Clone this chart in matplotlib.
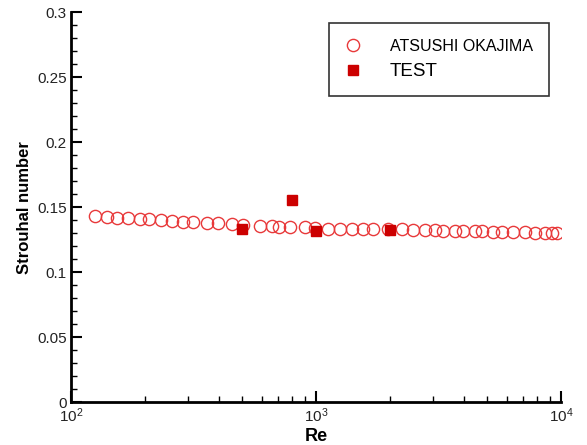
import matplotlib
matplotlib.use("Agg")
import matplotlib.pyplot as plt
from matplotlib.ticker import FixedLocator, NullFormatter

plt.rcParams['font.family'] = ['Liberation Sans', 'DejaVu Sans']
plt.rcParams['mathtext.fontset'] = 'custom'
plt.rcParams['mathtext.rm'] = 'Liberation Sans'

okajima_re = [125, 140, 154, 171, 191, 208, 233, 258, 287, 315, 359, 398, 454, 504,
              591, 661, 706, 783, 902, 991, 1119, 1253, 1403, 1556, 1709, 1968, 2244,
              2489, 2786, 3062, 3298, 3690, 3981, 4456, 4761, 5277, 5745, 6368, 7129,
              7834, 8610, 9186, 9638]
okajima_st = [0.143, 0.1425, 0.142, 0.1415, 0.141, 0.141, 0.140, 0.1395, 0.139, 0.139,
              0.138, 0.138, 0.137, 0.1365, 0.1355, 0.1355, 0.135, 0.135, 0.1345, 0.134,
              0.1335, 0.1335, 0.1335, 0.1335, 0.133, 0.133, 0.133, 0.1325, 0.1325, 0.1325,
              0.132, 0.1315, 0.1315, 0.1315, 0.1315, 0.131, 0.131, 0.131, 0.131, 0.1305,
              0.1305, 0.130, 0.130]
test_re = [500, 800, 1000, 2000]
test_st = [0.1333, 0.1556, 0.132, 0.1328]

fig = plt.figure(figsize=(5.87, 4.45), dpi=100)
ax = fig.add_axes([0.121, 0.0966, 0.835, 0.8754])

ax.plot(okajima_re, okajima_st, 'o', mfc='none', mec='#e8393a', mew=1.0, ms=8.8,
        ls='none', label='ATSUSHI OKAJIMA')
ax.plot(test_re, test_st, 's', color='#cc0000', ms=7.4, ls='none', label='TEST')

ax.set_xscale('log')
ax.set_xlim(100, 10000)
ax.set_ylim(0, 0.3)

ax.set_yticks([0, 0.05, 0.1, 0.15, 0.2, 0.25, 0.3])
ax.set_yticklabels(['0', '0.05', '0.1', '0.15', '0.2', '0.25', '0.3'])
ax.yaxis.set_minor_locator(FixedLocator([i * 0.01 for i in range(31)]))
ax.set_xticks([100, 1000, 10000])
ax.set_xticklabels([r'$\mathregular{10^2}$', r'$\mathregular{10^3}$', r'$\mathregular{10^4}$'])
ax.xaxis.set_minor_formatter(NullFormatter())

for s in ['top', 'right']:
    ax.spines[s].set_visible(False)
for s in ['left', 'bottom']:
    ax.spines[s].set_linewidth(2.0)

ax.tick_params(axis='both', which='major', direction='in', length=8, width=1.5,
               labelsize=11, colors='black', labelcolor='#222222', pad=3)
ax.tick_params(axis='both', which='minor', direction='in', length=4, width=1.0)

ax.set_xlabel('Re', fontsize=13, fontweight='bold', labelpad=2)
ax.set_ylabel('Strouhal number', fontsize=12, fontweight='bold', labelpad=4)

leg = ax.legend(loc='upper right', bbox_to_anchor=(0.985, 0.985), fontsize=11.5,
                frameon=True, fancybox=False, edgecolor='black', borderpad=1.0,
                handlelength=1.0, handletextpad=1.8, labelspacing=0.55,
                borderaxespad=0.3)
leg.get_frame().set_linewidth(1.2)
leg.get_texts()[1].set_fontsize(13.5)

fig.savefig('out.png', dpi=100)
